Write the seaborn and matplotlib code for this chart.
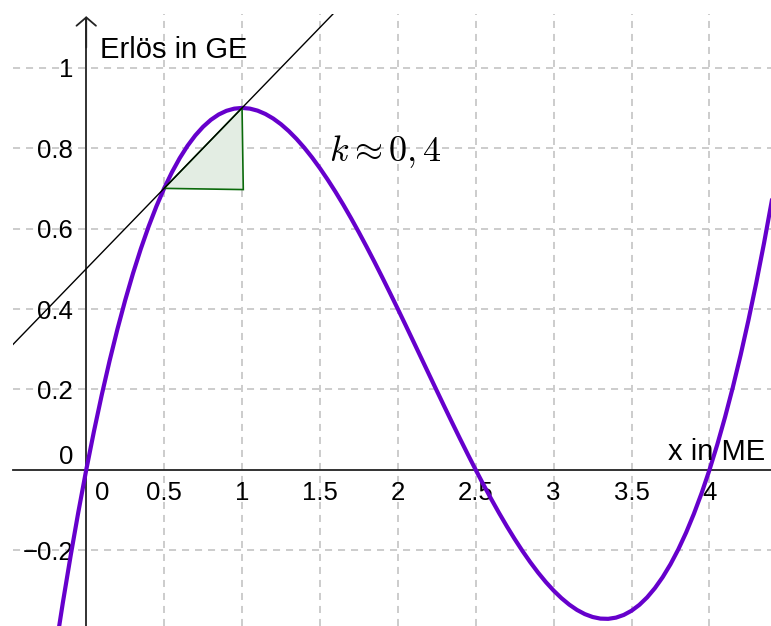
import matplotlib
matplotlib.use("Agg")
import matplotlib.pyplot as plt
import seaborn as sns
from matplotlib.ticker import MultipleLocator, FixedLocator, FixedFormatter
from matplotlib.patches import Polygon

# ---------------- data ----------------
curve_x = [-0.2, -0.15, -0.1, -0.05, 0.0, 0.05, 0.1, 0.15, 0.2, 0.25, 0.3,
           0.35, 0.4, 0.45, 0.5, 0.55, 0.6, 0.65, 0.7, 0.75, 0.8, 0.85, 0.9,
           0.95, 1.0, 1.05, 1.1, 1.15, 1.2, 1.25, 1.3, 1.35, 1.4, 1.45, 1.5,
           1.55, 1.6, 1.65, 1.7, 1.75, 1.8, 1.85, 1.9, 1.95, 2.0, 2.05, 2.1,
           2.15, 2.2, 2.25, 2.3, 2.35, 2.4, 2.45, 2.5, 2.55, 2.6, 2.65, 2.7,
           2.75, 2.8, 2.85, 2.9, 2.95, 3.0, 3.05, 3.1, 3.15, 3.2, 3.25, 3.3,
           3.35, 3.4, 3.45, 3.5, 3.55, 3.6, 3.65, 3.7, 3.75, 3.8, 3.85, 3.9,
           3.95, 4.0, 4.05, 4.1, 4.15, 4.2, 4.25, 4.3, 4.35, 4.4, 4.45, 4.5]
curve_y = [-0.4536, -0.3299, -0.2132, -0.1033, 0.0, 0.0968, 0.1872, 0.2714,
           0.3496, 0.4219, 0.4884, 0.5493, 0.6048, 0.6550, 0.7, 0.7400, 0.7752,
           0.8057, 0.8316, 0.8531, 0.8704, 0.8836, 0.8928, 0.8982, 0.9, 0.8983,
           0.8932, 0.8849, 0.8736, 0.8594, 0.8424, 0.8228, 0.8008, 0.7765, 0.75,
           0.7215, 0.6912, 0.6592, 0.6256, 0.5906, 0.5544, 0.5171, 0.4788,
           0.4397, 0.4, 0.3598, 0.3192, 0.2784, 0.2376, 0.1969, 0.1564, 0.1163,
           0.0768, 0.0380, 0.0, -0.0370, -0.0728, -0.1073, -0.1404, -0.1719,
           -0.2016, -0.2294, -0.2552, -0.2788, -0.3, -0.3187, -0.3348, -0.3481,
           -0.3584, -0.3656, -0.3696, -0.3702, -0.3672, -0.3605, -0.35, -0.3355,
           -0.3168, -0.2938, -0.2664, -0.2344, -0.1976, -0.1559, -0.1092,
           -0.0573, 0.0, 0.0628, 0.1312, 0.2054, 0.2856, 0.3719, 0.4644, 0.5633,
           0.6688, 0.7810, 0.9]

secant_x = [-0.6, 1.8]
secant_y = [0.26, 1.22]

triangle_x = [0.5, 1.0, 1.008]
triangle_y = [0.7, 0.9, 0.697]

x_major = [0.5, 1.0, 1.5, 2.0, 2.5, 3.0, 3.5, 4.0]
x_labels = ["0.5", "1", "1.5", "2", "2.5", "3", "3.5", "4"]
y_major = [-0.2, 0.2, 0.4, 0.6, 0.8, 1.0]
y_labels = ["\u22120.2", "0.2", "0.4", "0.6", "0.8", "1"]

x_title = "x in ME"
y_title = "Erlös in GE"
slope_text = r"$k \approx 0,4$"

# ---------------- style ----------------
sns.set_style("white")
plt.rcParams["font.family"] = ["Liberation Sans", "DejaVu Sans"]
plt.rcParams["mathtext.fontset"] = "cm"
plt.rcParams["text.color"] = "black"
plt.rcParams["xtick.labelcolor"] = "black"
plt.rcParams["ytick.labelcolor"] = "black"

W, H = 771, 626
fig = plt.figure(figsize=(W / 100, H / 100), dpi=100)
ax = fig.add_axes([13 / W, 0, 758 / W, 612 / H])

xmin, xmax = -0.47, 4.395
ymin, ymax = -0.388, 1.1335
ax.set_xlim(xmin, xmax)
ax.set_ylim(ymin, ymax)

grid_kw = dict(color="#c8c8c8", lw=1.3, ls=(0, (3.9, 3.3)), zorder=0)
for gx in x_major:
    ax.axvline(gx, **grid_kw)
for gy in y_major:
    ax.axhline(gy, **grid_kw)

# triangle
tri = Polygon(list(zip(triangle_x, triangle_y)), closed=True,
              facecolor="#e3ede3", edgecolor="#0b6a0b", lw=1.2, zorder=4)
ax.add_patch(tri)

# curve
sns.lineplot(x=curve_x, y=curve_y, ax=ax, color="#6600cc", lw=3.0,
             sort=False, estimator=None, zorder=3)
# secant line
sns.lineplot(x=secant_x, y=secant_y, ax=ax, color="black", lw=1.0,
             sort=False, estimator=None, zorder=5)

# axes through origin
for s in ["top", "right"]:
    ax.spines[s].set_visible(False)
ax.spines["left"].set_position(("data", 0))
ax.spines["bottom"].set_position(("data", 0))
ax.spines["left"].set_bounds(ymin, 1.12)
for s in ["left", "bottom"]:
    ax.spines[s].set_linewidth(1.3)
    ax.spines[s].set_color("#222222")
    ax.spines[s].set_zorder(2)

ax.annotate("", xy=(0, 1.128), xytext=(0, 1.05),
            arrowprops=dict(arrowstyle="->,head_length=0.3,head_width=0.35",
                            lw=1.3, color="#222222", shrinkA=0, shrinkB=0,
                            mutation_scale=20))

ax.xaxis.set_major_locator(FixedLocator(x_major))
ax.xaxis.set_major_formatter(FixedFormatter(x_labels))
ax.xaxis.set_minor_locator(MultipleLocator(0.25))
ax.yaxis.set_major_locator(FixedLocator(y_major))
ax.yaxis.set_major_formatter(FixedFormatter(y_labels))
ax.yaxis.set_minor_locator(MultipleLocator(0.1))

ax.tick_params(axis="x", which="both", direction="out", length=3,
               width=1.1, color="#222222", pad=5, labelsize=18.5,
               labelcolor="black")
ax.tick_params(axis="y", which="both", direction="out", length=3.5,
               width=1.1, color="#222222", pad=6, labelsize=18.5,
               labelcolor="black")

# zero labels
ax.text((102.5 - 86.7) / 156.0, -(493 - 470) / 402.3, "0", fontsize=18.5,
        ha="center", va="center", color="black")
ax.text((66.5 - 86.7) / 156.0, (470 - 457) / 402.3, "0", fontsize=18.5,
        ha="center", va="center", color="black")

# titles
ax.text((100 - 86.7) / 156.0, (470 - 58) / 402.3, y_title, fontsize=21,
        ha="left", va="baseline", color="black")
ax.text((669 - 86.7) / 156.0, (470 - 460) / 402.3, x_title, fontsize=21,
        ha="left", va="baseline", color="black")
ax.text((330 - 86.7) / 156.0, (470 - 161) / 402.3, slope_text, fontsize=26,
        ha="left", va="baseline", color="black")

fig.savefig("out.png", dpi=100)
